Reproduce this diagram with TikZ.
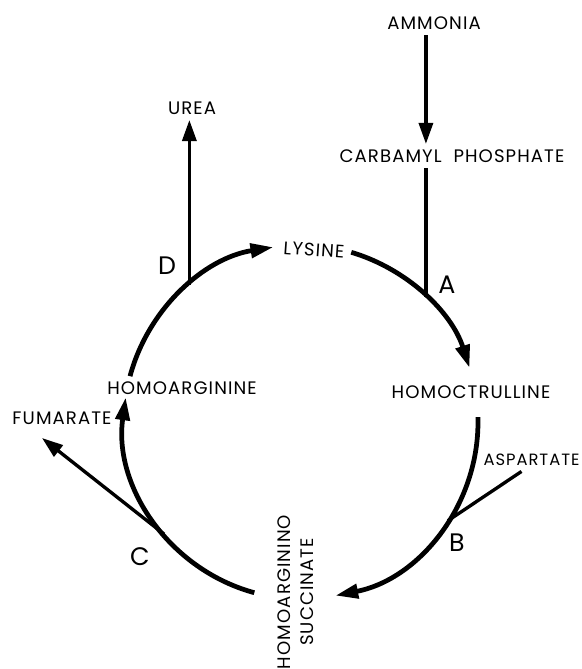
\documentclass[tikz,border=0pt]{standalone}
\usepackage{fontspec}
\setmainfont{Poppins}
\newfontfamily\metabfont{Poppins}[LetterSpace=6]
\usetikzlibrary{arrows.meta}

\tikzset{
  ringarc/.style={line width=2.7pt, -{Triangle[length=13pt,width=8pt]}},
  branch/.style={line width=1.9pt},
  sidearrow/.style={branch, -{Triangle[length=12pt,width=8pt]}},
  metab/.style={font=\metabfont\fontsize{10.3}{12}\selectfont, inner sep=3pt},
  enz/.style={font=\Large}
}

\begin{document}
\begin{tikzpicture}
        \useasboundingbox (0,0) rectangle (11.62,13.38);

        % Centro do ciclo e pontos de ramificacao
        \coordinate (o) at (6.02,4.94);
        \path (o) ++(129.1:3.54) coordinate (d);
        \path (o) ++(45.1:3.54) coordinate (a);
        \path (o) ++(-33.9:3.54) coordinate (b);
        \path (o) ++(219.3:3.54) coordinate (c);
        \coordinate (fu) at (0.84,4.62);

        % Compostos
        \node[metab] (ammonia) at (8.68,12.92) {AMMONIA};
        \node[metab] (carbamyl) at (9.04,10.26) {CARBAMYL\ \ PHOSPHATE};
        \node[metab] (urea) at (3.84,11.22) {UREA};
        \node[metab, rotate=-4] (lysine) at (6.28,8.38) {LYSINE};
        \node[metab] (homocit) at (9.42,5.54) {HOMOCTRULLINE};
        \node[metab] (homoarg) at (3.64,5.62) {HOMOARGININE};
        \node[metab] (fumarate) at (1.24,5.02) {FUMARATE};
        \node[metab, font=\metabfont\fontsize{9.3}{11}\selectfont] (aspartate) at (10.63,4.18) {ASPARTATE};
        \node[metab, rotate=90, align=center] (hasucc) at (5.91,1.54) {HOMOARGININO\\[1pt]SUCCINATE};

        % Enzimas
        \node[enz] (labA) at (8.94,7.68) {A};
        \node[enz] (labB) at (9.14,2.52) {B};
        \node[enz] (labC) at (2.80,2.24) {C};
        \node[enz] (labD) at (3.34,8.06) {D};

        % Arcos do ciclo
        \draw[ringarc] (o) ++(165:3.54) arc[start angle=165, end angle=99, radius=3.54];
        \draw[ringarc] (o) ++(73.5:3.54) arc[start angle=73.5, end angle=17.8, radius=3.54];
        \draw[ringarc] (o) ++(1.6:3.54) arc[start angle=1.6, end angle=-78.8, radius=3.54];
        \draw[ringarc] (o) ++(254.7:3.54) arc[start angle=254.7, end angle=172, radius=3.54];

        % Entradas e saidas
        \draw[sidearrow] (ammonia.south -| a) -- (carbamyl.north -| a);
        \draw[branch] (carbamyl.south -| a) -- (a);
        \draw[sidearrow] (d) -- (d |- urea.south);
        \draw[branch] ([xshift=-0.2cm]aspartate.south) -- (b);
        \draw[sidearrow] (c) -- (fu);
      \end{tikzpicture}
\end{document}
